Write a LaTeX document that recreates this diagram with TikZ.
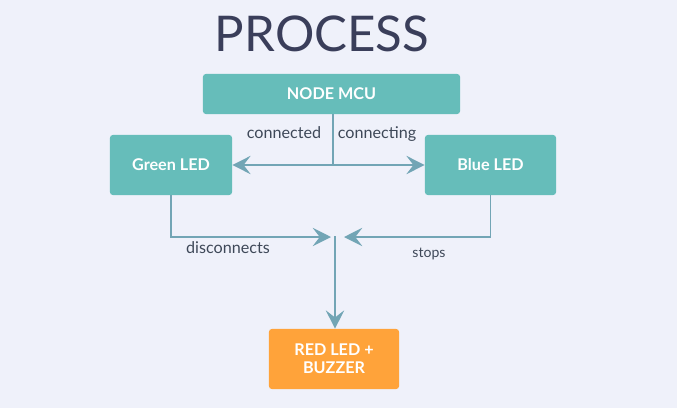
\documentclass[tikz,border=0pt]{standalone}
\usepackage{fontspec}
\setmainfont{Lato}
\usetikzlibrary{arrows.meta}
\definecolor{bgcol}{HTML}{EFF1FA}
\definecolor{tealbox}{HTML}{66BDBA}
\definecolor{orangebox}{HTML}{FFA33A}
\definecolor{arrcol}{HTML}{72A5B5}
\definecolor{titlecol}{HTML}{3A3E5A}
\definecolor{labcol}{HTML}{3E4858}
\begin{document}
\begin{tikzpicture}[x=0.025cm, y=-0.025cm,
  block/.style={rounded corners=2pt, minimum width=#1, minimum height=1.5cm,
                align=center, text=white, font=\bfseries\fontsize{11.5}{13}\selectfont},
  arr/.style={-{Stealth[length=13pt, width=13pt, inset=5pt]}, line width=1.4pt, draw=arrcol},
  lab/.style={text=labcol, font=\fontsize{11.5}{12}\selectfont}
]
  \fill[bgcol] (0,0) rectangle (677,408);
  \useasboundingbox (0,0) rectangle (677,408);
  % Titre
  \node[text=titlecol, font=\fontsize{35}{38}\selectfont] (title) at (322,34) {PROCESS};
  % Blocs
  \node[block=6.425cm, minimum height=1cm, fill=tealbox] (mcu)   at (331.5,94)  {NODE MCU};
  \node[block=3.05cm,  fill=tealbox]                     (green) at (171,165)   {Green LED};
  \node[block=3.275cm, fill=tealbox]                     (blue)  at (490.5,165) {Blue LED};
  \node[block=3.25cm,  fill=orangebox]                   (red)   at (334,359)   {RED LED +\\BUZZER};
  % Points de jonction
  \coordinate (split) at (333,165);
  \coordinate (inL)   at (331,237);
  \coordinate (inR)   at (344,237);
  \coordinate (merge) at (335,236);
  % Fleches
  \draw[line width=1.4pt, draw=arrcol] (mcu.south -| split) -- (split);
  \draw[arr] (split) -- (green.east);
  \draw[arr] (split) -- (blue.east -| blue.west);
  \draw[arr] (green.south) |- (inL);
  \draw[arr] (blue.south) |- (inR);
  \draw[arr] (merge) -- (red.north -| merge);
  % Etiquettes
  \node[lab] (l1) at (284,133) {connected};
  \node[lab] (l2) at (377,134) {connecting};
  \node[lab] (l3) at (228,248) {disconnects};
  \node[lab, font=\fontsize{10}{11}\selectfont] (l4) at (429,254) {stops};
\end{tikzpicture}
\end{document}
